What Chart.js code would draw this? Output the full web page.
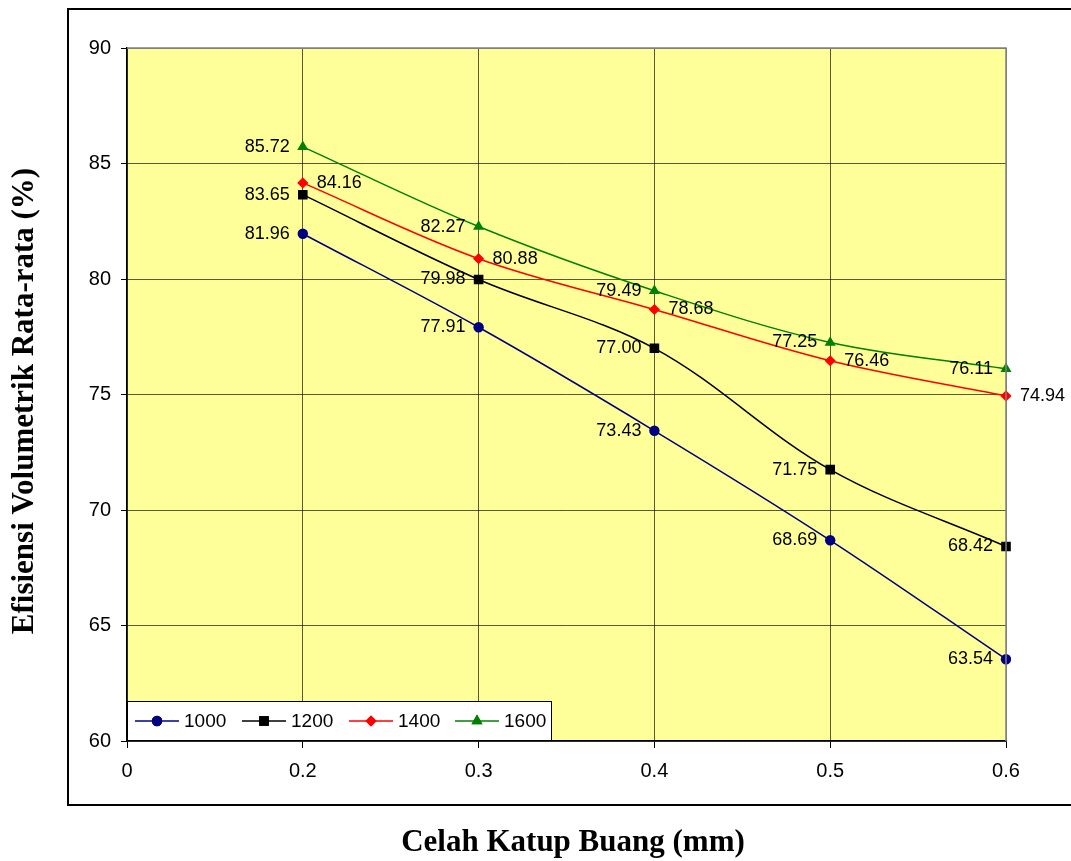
<!DOCTYPE html>
<html>
<head>
<meta charset="utf-8">
<script src="https://cdn.jsdelivr.net/npm/chart.js@4.4.1/dist/chart.umd.min.js"></script>
<style>
  html, body { margin: 0; padding: 0; background: #ffffff; }
  #wrap { width: 1071px; height: 861px; }
</style>
</head>
<body>
<div id="wrap"><canvas id="c" width="1071" height="861"></canvas></div>
<script>
// Exhaust valve clearance (mm) categories; the first category carries no data
const categories = ['0', '0.2', '0.3', '0.4', '0.5', '0.6'];

// Average volumetric efficiency (%) per engine speed (rpm)
const rpm1000 = [null, 81.96, 77.91, 73.43, 68.69, 63.54];
const rpm1200 = [null, 83.65, 79.98, 77.00, 71.75, 68.42];
const rpm1400 = [null, 84.16, 80.88, 78.68, 76.46, 74.94];
const rpm1600 = [null, 85.72, 82.27, 79.49, 77.25, 76.11];

const seriesNames = ['1000', '1200', '1400', '1600'];
const seriesColors = ['#000080', '#000000', '#ff0000', '#008000'];
const seriesMarkers = ['circle', 'rect', 'rectRot', 'triangle'];
const markerRadius = [5.2, 6.8, 5.6, 6.4];
const labelSide = ['left', 'left', 'right', 'left'];

const yMin = 60, yMax = 90, yStep = 5;

const xTitle = 'Celah Katup Buang (mm)';
const yTitle = 'Efisiensi Volumetrik Rata-rata (%)';

const sansFont = '"Liberation Sans", Arial, sans-serif';
const serifFont = '"Liberation Serif", "Times New Roman", serif';

const seriesData = [rpm1000, rpm1200, rpm1400, rpm1600];

const datasets = seriesData.map((d, i) => ({
  label: seriesNames[i],
  data: d,
  borderColor: seriesColors[i],
  backgroundColor: seriesColors[i],
  pointBackgroundColor: seriesColors[i],
  pointBorderColor: seriesColors[i],
  pointBorderWidth: 0,
  pointStyle: seriesMarkers[i],
  pointRadius: markerRadius[i],
  pointHoverRadius: markerRadius[i],
  borderWidth: 1.5,
  tension: 0.35,
  fill: false,
  spanGaps: false
}));

// Yellow plot background
const plotBackground = {
  id: 'plotBackground',
  beforeDraw(chart) {
    const { ctx, chartArea: a } = chart;
    ctx.save();
    ctx.fillStyle = '#ffff99';
    ctx.fillRect(a.left, a.top, a.right - a.left, a.bottom - a.top);
    ctx.restore();
  }
};

// Value labels next to each marker
const valueLabels = {
  id: 'valueLabels',
  afterDatasetsDraw(chart) {
    const { ctx } = chart;
    ctx.save();
    ctx.font = '18px ' + sansFont;
    ctx.fillStyle = '#000000';
    ctx.textBaseline = 'middle';
    chart.data.datasets.forEach((ds, i) => {
      const meta = chart.getDatasetMeta(i);
      meta.data.forEach((pt, j) => {
        const v = ds.data[j];
        if (v === null || v === undefined) return;
        const txt = v.toFixed(2);
        if (labelSide[i] === 'left') {
          ctx.textAlign = 'right';
          ctx.fillText(txt, pt.x - 13, pt.y);
        } else {
          ctx.textAlign = 'left';
          ctx.fillText(txt, pt.x + 14, pt.y);
        }
      });
    });
    ctx.restore();
  }
};

// Legend box inside the plot, outer frame and axis titles
const frameAndLegend = {
  id: 'frameAndLegend',
  afterDraw(chart) {
    const { ctx, chartArea: a } = chart;
    ctx.save();

    // legend box
    const lx = a.left, ly = 701, lw = 425, lh = a.bottom - 701;
    ctx.fillStyle = '#ffffff';
    ctx.fillRect(lx, ly, lw, lh);
    ctx.strokeStyle = '#000000';
    ctx.lineWidth = 1;
    ctx.strokeRect(lx + 0.5, ly + 0.5, lw - 1, lh - 1);

    const cy = ly + lh / 2;
    const itemStarts = [135, 242, 349, 455];
    ctx.font = '19px ' + sansFont;
    ctx.textBaseline = 'middle';
    ctx.textAlign = 'left';
    chart.data.datasets.forEach((ds, i) => {
      const x0 = itemStarts[i];
      ctx.strokeStyle = ds.borderColor;
      ctx.lineWidth = 1.5;
      ctx.beginPath();
      ctx.moveTo(x0, cy);
      ctx.lineTo(x0 + 44, cy);
      ctx.stroke();
      ctx.fillStyle = ds.backgroundColor;
      Chart.helpers.drawPoint(ctx, {
        pointStyle: ds.pointStyle,
        radius: ds.pointRadius,
        rotation: 0,
        borderWidth: 0
      }, x0 + 22, cy);
      ctx.fill();
      ctx.fillStyle = '#000000';
      ctx.fillText(ds.label, x0 + 49, cy + 1);
    });

    // gray plot border on top and right
    ctx.strokeStyle = '#808080';
    ctx.lineWidth = 1.5;
    ctx.beginPath();
    ctx.moveTo(a.left, a.top);
    ctx.lineTo(a.right, a.top);
    ctx.lineTo(a.right, a.bottom);
    ctx.stroke();

    // outer frame
    ctx.strokeStyle = '#000000';
    ctx.lineWidth = 2;
    ctx.strokeRect(68, 9, 1071, 796);

    // axis titles
    ctx.fillStyle = '#000000';
    ctx.font = 'bold 31px ' + serifFont;
    ctx.textAlign = 'center';
    ctx.textBaseline = 'middle';
    ctx.fillText(xTitle, 573, 843);
    ctx.translate(25, 401);
    ctx.rotate(-Math.PI / 2);
    ctx.fillText(yTitle, 0, 0);
    ctx.restore();
  }
};

new Chart(document.getElementById('c'), {
  type: 'line',
  data: { labels: categories, datasets },
  options: {
    responsive: false,
    animation: false,
    devicePixelRatio: 1,
    layout: { padding: { left: 0, top: 48, right: 65, bottom: 0 } },
    plugins: {
      legend: { display: false },
      title: { display: false },
      tooltip: { enabled: false }
    },
    scales: {
      x: {
        type: 'category',
        offset: false,
        afterFit(scale) { scale.height = 120; },
        grid: {
          color: ctx => (ctx.index === categories.length - 1 ? '#808080' : 'rgba(0,0,0,0.65)'),
          lineWidth: 1,
          tickColor: '#000000',
          tickLength: 7,
          drawTicks: true
        },
        border: { color: '#000000', width: 1.5 },
        ticks: {
          color: '#000000',
          font: { family: sansFont, size: 20 },
          padding: 11,
          maxRotation: 0,
          autoSkip: false
        }
      },
      y: {
        min: yMin,
        max: yMax,
        afterFit(scale) { scale.width = 127; },
        grid: {
          color: ctx => (ctx.tick && ctx.tick.value === yMax ? '#808080' : 'rgba(0,0,0,0.65)'),
          lineWidth: 1,
          tickColor: '#000000',
          tickLength: 6,
          drawTicks: true
        },
        border: { color: '#000000', width: 1.5 },
        ticks: {
          stepSize: yStep,
          color: '#000000',
          font: { family: sansFont, size: 20 },
          padding: 10
        }
      }
    }
  },
  plugins: [plotBackground, valueLabels, frameAndLegend]
});
</script>
</body>
</html>
